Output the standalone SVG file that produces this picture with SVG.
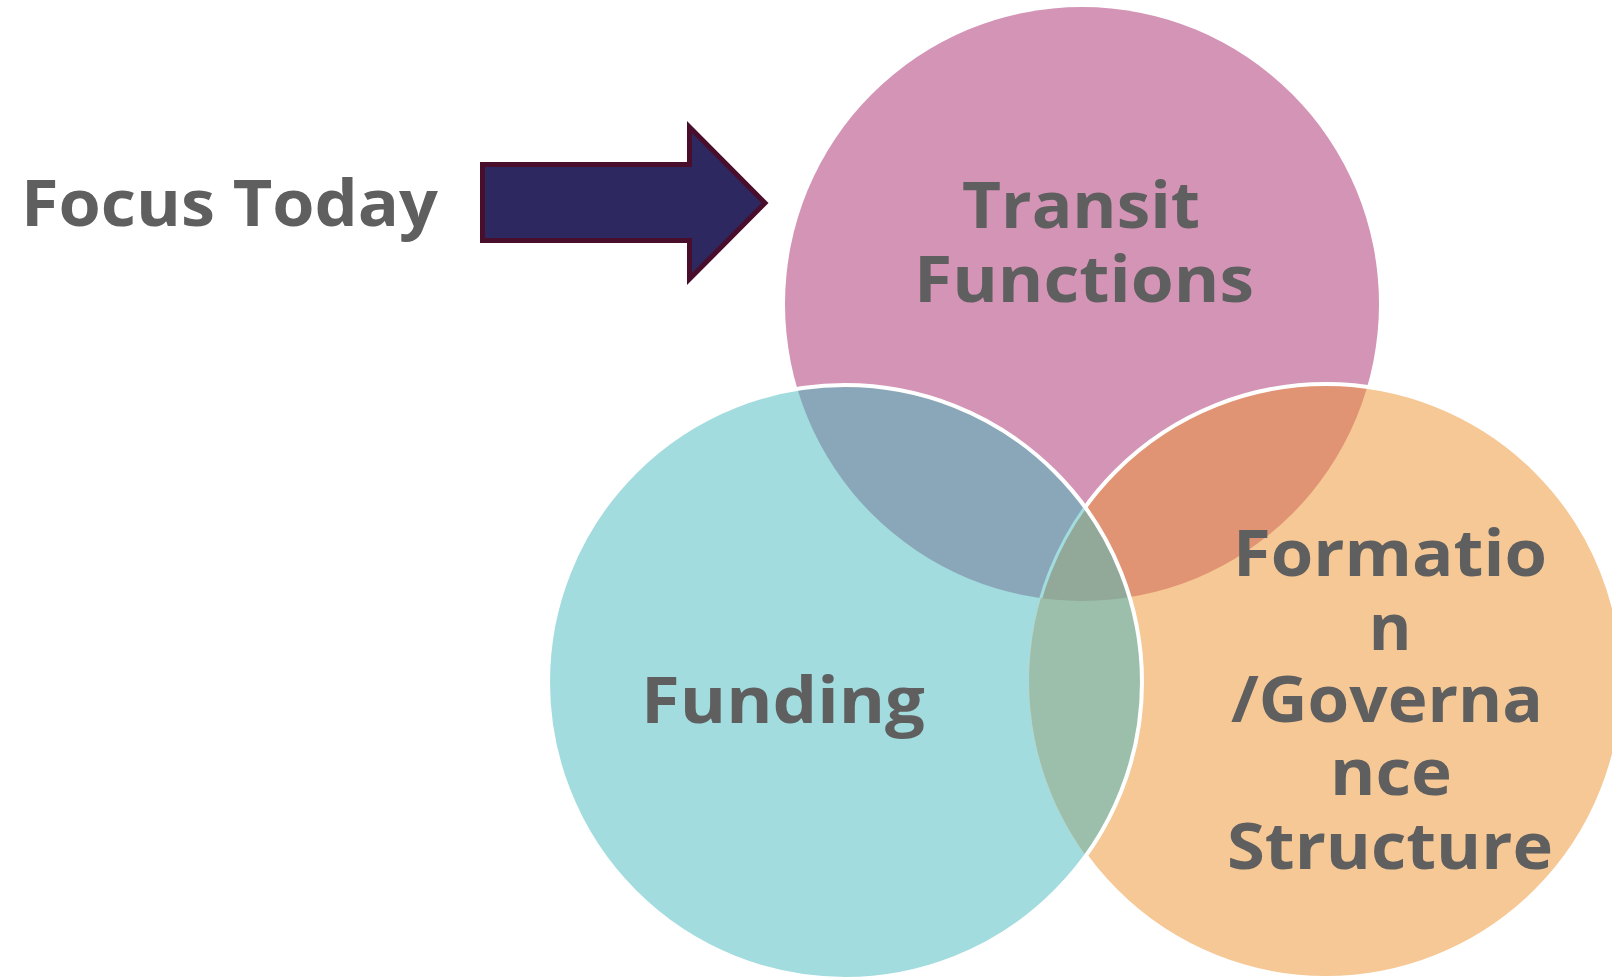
<svg xmlns="http://www.w3.org/2000/svg" width="1612" height="980" viewBox="0 0 1612 980">
<defs>
<style>
.lbl{font-family:"Open Sans","Liberation Sans",sans-serif;font-weight:700;font-size:65px;fill:#5F5F5F;text-anchor:middle}
</style>
<clipPath id="cP"><circle cx="1082" cy="304" r="297"/></clipPath>
<clipPath id="cT"><circle cx="845" cy="682" r="297"/></clipPath>
<clipPath id="cO"><circle cx="1326" cy="681" r="297"/></clipPath>
<clipPath id="cNotT"><path clip-rule="evenodd" d="M0 0H1612V980H0Z M548 682a297 297 0 1 0 594 0a297 297 0 1 0 -594 0Z"/></clipPath>
</defs>
<rect width="1612" height="980" fill="#FFFFFF"/>
<g id="circle-transit">
<circle cx="1082" cy="304" r="297" fill="#D394B6"/>
</g>
<g id="circle-funding">
<circle cx="845" cy="682" r="297" fill="#A2DCDE"/>
</g>
<g id="circle-formation">
<circle cx="1326" cy="681" r="297" fill="#F5C895"/>
</g>
<g id="overlaps">
<g clip-path="url(#cP)"><circle cx="845" cy="682" r="297" fill="#8AA7BA"/></g>
<g clip-path="url(#cP)"><circle cx="1326" cy="681" r="297" fill="#E19473"/></g>
<g clip-path="url(#cT)"><circle cx="1326" cy="681" r="297" fill="#9CBFAB"/></g>
<g clip-path="url(#cP)"><g clip-path="url(#cT)"><circle cx="1326" cy="681" r="297" fill="#92A898"/><circle cx="1326" cy="681" r="297" fill="none" stroke="#A2DCDE" stroke-width="3"/></g></g>
</g>
<g id="outlines" fill="none" stroke="#FFFFFF" stroke-width="4">
<g clip-path="url(#cNotT)"><circle cx="1326" cy="681" r="297"/></g>
<circle cx="845" cy="682" r="297"/>
</g>
<g id="connectors">
<polygon id="focus-arrow" points="482.5,164.5 689.5,164.5 689.5,127 765,203 689.5,279 689.5,240.5 482.5,240.5" fill="#2D2860" stroke="#480E2C" stroke-width="5" stroke-linejoin="miter"/>
</g>
<g id="label-focus">
<text class="lbl" x="229.5" y="226" textLength="417" lengthAdjust="spacingAndGlyphs">Focus Today</text>
</g>
<g id="label-transit">
<text class="lbl" x="1081" y="228" textLength="238" lengthAdjust="spacingAndGlyphs">Transit</text>
<text class="lbl" x="1084" y="302" textLength="340" lengthAdjust="spacingAndGlyphs">Functions</text>
</g>
<g id="label-funding">
<text class="lbl" x="783" y="723" textLength="284" lengthAdjust="spacingAndGlyphs">Funding</text>
</g>
<g id="label-formation">
<text class="lbl" x="1390" y="576" textLength="314" lengthAdjust="spacingAndGlyphs">Formatio</text>
<text class="lbl" x="1390" y="650">n</text>
<text class="lbl" x="1387" y="722" textLength="312" lengthAdjust="spacingAndGlyphs">/Governa</text>
<text class="lbl" x="1391" y="795" textLength="122" lengthAdjust="spacingAndGlyphs">nce</text>
<text class="lbl" x="1390" y="869" textLength="326" lengthAdjust="spacingAndGlyphs">Structure</text>
</g>
</svg>
